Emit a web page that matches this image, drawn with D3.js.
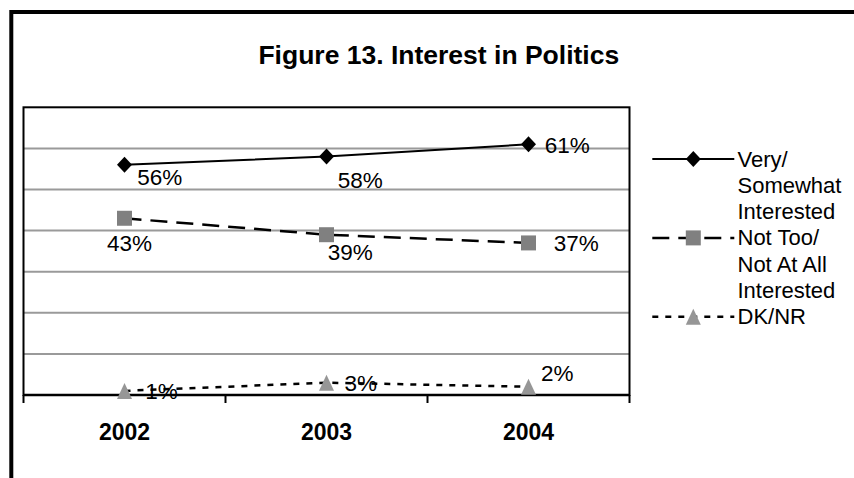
<!DOCTYPE html>
<html>
<head>
<meta charset="utf-8">
<script src="https://cdn.jsdelivr.net/npm/d3@7/dist/d3.min.js"></script>
<style>
  html, body { margin: 0; padding: 0; background: #fff; }
  svg { display: block; }
  text { font-family: "Liberation Sans", Arial, Helvetica, sans-serif; fill: #000; }
</style>
</head>
<body>
<svg id="chart" width="854" height="478"></svg>
<script>
// Survey years on the category axis
const years = ["2002", "2003", "2004"];

// Percent of respondents per answer group
const veryInterested = [56, 58, 61];
const notInterested = [43, 39, 37];
const dkNr = [1, 3, 2];

// Legend captions, one array of lines per series
const seriesNames = [
  ["Very/", "Somewhat", "Interested"],
  ["Not Too/", "Not At All", "Interested"],
  ["DK/NR"]
];

// Value axis: 0–70 with a gridline every 10
const yTicks = [10, 20, 30, 40, 50, 60];

const title = "Figure 13. Interest in Politics";

// ---- layout and styling ----
const svg = d3.select("#chart");
const plot = { left: 23.5, right: 629.5, top: 107.3, bottom: 395 };
const font = '"Liberation Sans", Arial, Helvetica, sans-serif';

const x = d3.scaleBand().domain(years).range([plot.left, plot.right]).padding(0);
const y = d3.scaleLinear().domain([0, 70]).range([plot.bottom, plot.top]);
const cx = d => x(d) + x.bandwidth() / 2;

// Per-series drawing style
const styles = [
  { dash: null, width: 2, marker: "diamond", fill: "#000" },
  { dash: "17,9", width: 2.5, marker: "square", fill: "#808080" },
  { dash: "6,7", width: 2.5, marker: "triangle", fill: "#969696" }
];

// Data-label placement (left edge / vertical centre offsets from each point)
const labelOffsets = [
  [[12.7, 12], [11.3, 23], [16.3, 1]],
  [[-17.6, 25], [1.3, 17], [25.3, 0.5]],
  [[20.7, 0], [18, 0], [12.6, -13.5]]
];

const series = [veryInterested, notInterested, dkNr];

// Outer frame (runs off the right and bottom edges)
svg.append("rect")
  .attr("x", 11.3).attr("y", 12)
  .attr("width", 1000).attr("height", 700)
  .attr("fill", "none").attr("stroke", "#000").attr("stroke-width", 4);

// Title
svg.append("text")
  .attr("x", 438.8).attr("y", 64)
  .attr("text-anchor", "middle")
  .style("font-size", "26.5px").style("font-weight", "bold")
  .text(title);

// Gridlines
svg.append("g").selectAll("line")
  .data(yTicks).join("line")
  .attr("x1", plot.left).attr("x2", plot.right)
  .attr("y1", d => y(d)).attr("y2", d => y(d))
  .attr("stroke", "#9a9a9a").attr("stroke-width", 2);

// Plot area border
svg.append("rect")
  .attr("x", plot.left).attr("y", plot.top)
  .attr("width", plot.right - plot.left).attr("height", plot.bottom - plot.top)
  .attr("fill", "none").attr("stroke", "#000").attr("stroke-width", 2);

// Category axis: boundary ticks between the years
const boundaries = years.map(d => x(d)).concat([x.range()[1]]);
svg.append("line")
  .attr("x1", plot.left).attr("x2", plot.right)
  .attr("y1", plot.bottom).attr("y2", plot.bottom)
  .attr("stroke", "#000").attr("stroke-width", 2.5);
svg.append("g").selectAll("line")
  .data(boundaries).join("line")
  .attr("x1", d => d).attr("x2", d => d)
  .attr("y1", plot.bottom).attr("y2", plot.bottom + 8)
  .attr("stroke", "#000").attr("stroke-width", 2);

const xAxis = svg.append("g")
  .attr("transform", `translate(0,${plot.bottom})`)
  .call(d3.axisBottom(x).tickSize(0).tickPadding(0));
xAxis.select(".domain").remove();
xAxis.selectAll("text")
  .attr("y", 45).attr("dy", null)
  .style("font-family", font)
  .style("font-size", "23px").style("font-weight", "bold")
  .attr("fill", "#000");

// Marker shapes
function markerPath(kind) {
  if (kind === "diamond") return "M0,-8L7.5,0L0,8L-7.5,0Z";
  if (kind === "square") return "M-7.5,-7.5H7.5V7.5H-7.5Z";
  return "M0,-8L7.5,8L-7.5,8Z";
}

const line = d3.line().x(d => cx(d.year)).y(d => y(d.value));

series.forEach((vals, i) => {
  const st = styles[i];
  const pts = vals.map((v, j) => ({ year: years[j], value: v }));
  const g = svg.append("g");

  // data labels sit under the line
  g.selectAll("text")
    .data(pts).join("text")
    .attr("x", (d, j) => cx(d.year) + labelOffsets[i][j][0])
    .attr("y", (d, j) => y(d.value) + labelOffsets[i][j][1] + 8)
    .style("font-size", "22.5px")
    .text(d => d.value + "%");

  g.append("path")
    .datum(pts)
    .attr("d", line)
    .attr("fill", "none").attr("stroke", "#000")
    .attr("stroke-width", st.width)
    .attr("stroke-dasharray", st.dash);

  g.selectAll("path.mk")
    .data(pts).join("path")
    .attr("class", "mk")
    .attr("transform", d => `translate(${cx(d.year)},${y(d.value)})`)
    .attr("d", markerPath(st.marker))
    .attr("fill", st.fill);
});

// Legend
const legend = { x1: 652.3, x2: 734.3, textX: 737.5, top: 159, row: 26.3 };
let row = 0;
seriesNames.forEach((lines, i) => {
  const st = styles[i];
  const ly = legend.top + row * legend.row;
  const g = svg.append("g");
  g.append("line")
    .attr("x1", legend.x1).attr("x2", legend.x2)
    .attr("y1", ly).attr("y2", ly)
    .attr("stroke", "#000").attr("stroke-width", st.width)
    .attr("stroke-dasharray", st.dash);
  g.append("path")
    .attr("transform", `translate(${(legend.x1 + legend.x2) / 2},${ly})`)
    .attr("d", markerPath(st.marker))
    .attr("fill", st.fill);
  lines.forEach((t, k) => {
    g.append("text")
      .attr("x", legend.textX)
      .attr("y", legend.top + (row + k) * legend.row + 7.5)
      .style("font-size", "22px")
      .text(t);
  });
  row += lines.length;
});
</script>
</body>
</html>
